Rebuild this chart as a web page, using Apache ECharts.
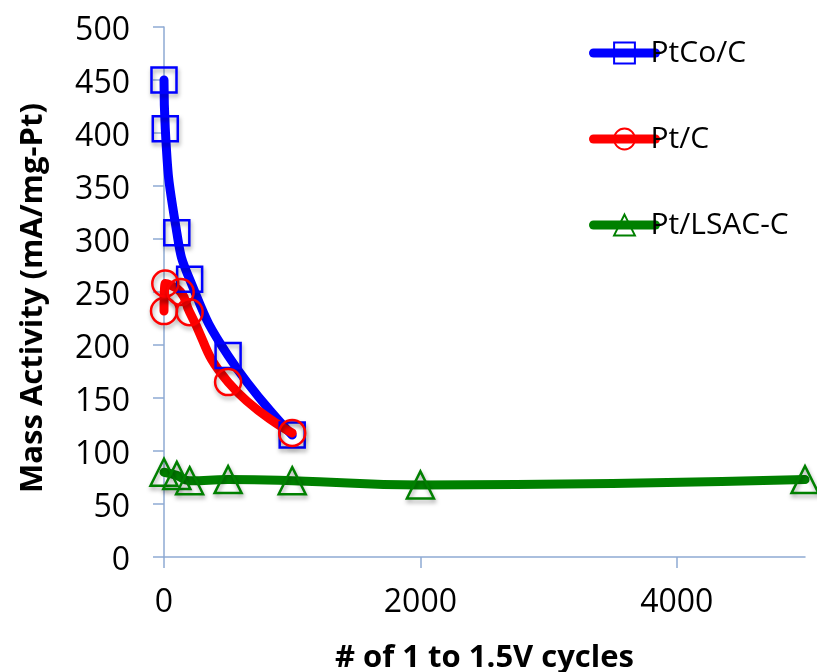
<!DOCTYPE html>
<html>
<head>
<meta charset="utf-8">
<script src="https://cdn.jsdelivr.net/npm/echarts@6/dist/echarts.min.js"></script>
<style>
html,body{margin:0;padding:0;background:#fff;}
#chart{width:817px;height:672px;}
</style>
</head>
<body>
<div id="chart"></div>
<script>
// Data
const seriesNames = ['PtCo/C', 'Pt/C', 'Pt/LSAC-C'];
const ptcoX = [0, 10, 100, 200, 500, 1000];
const ptcoY = [450, 404, 306, 262, 190, 115];
const ptX = [0, 10, 130, 200, 500, 1000];
const ptY = [232, 258, 250, 231, 165, 117];
const lsacX = [0, 100, 200, 500, 1000, 2000, 5000];
const lsacY = [80, 77, 72, 73, 72, 68, 73];
const xTicks = [0, 2000, 4000];
const yMin = 0, yMax = 500, yStep = 50;
const xMin = 0, xMax = 5000;

function pairs(xs, ys) { return xs.map((x, i) => [x, ys[i]]); }

const FONT = 'Open Sans';
const AXIS = '#8EAAD3';
const shadow = {shadowColor: 'rgba(0,0,0,0.35)', shadowBlur: 4, shadowOffsetX: 1, shadowOffsetY: 3};

function mk(name, xs, ys, color, symbol, size) {
  return {
    name: name,
    type: 'line',
    data: pairs(xs, ys),
    smooth: 0.5,
    symbol: symbol,
    symbolSize: size,
    showAllSymbol: true,
    lineStyle: {color: color, width: 9, cap: 'round', join: 'round'},
    itemStyle: Object.assign({color: 'rgba(255,255,255,0)', borderColor: color, borderWidth: 2.5}, shadow),
    emphasis: {disabled: true},
    z: 2
  };
}

const chart = echarts.init(document.getElementById('chart'), null, {renderer: 'canvas'});
chart.setOption({
  animation: false,
  backgroundColor: '#fff',
  grid: {left: 164, right: 12, top: 27, bottom: 115, containLabel: false, outerBoundsMode: 'none'},
  legend: {
    orient: 'vertical',
    left: 584,
    top: 33,
    itemWidth: 62,
    itemHeight: 26,
    itemGap: 56,
    lineStyle: {width: 9, cap: 'round'},
    itemStyle: {borderWidth: 2, shadowBlur: 0, shadowOffsetX: 0, shadowOffsetY: 0},
    textStyle: {fontFamily: FONT, fontSize: 30, color: '#000', padding: [0, 0, 0, -10]},
    data: seriesNames
  },
  xAxis: {
    type: 'value',
    min: xMin, max: xMax, interval: 2000,
    name: '# of 1 to 1.5V cycles',
    nameLocation: 'middle',
    nameGap: 86,
    nameTextStyle: {fontFamily: FONT, fontSize: 31, fontWeight: 'bold', color: '#000'},
    axisLine: {lineStyle: {color: AXIS, width: 1.5}},
    axisTick: {show: true, length: 11, lineStyle: {color: AXIS, width: 1.5}, customValues: xTicks},
    axisLabel: {fontFamily: FONT, fontSize: 32, color: '#000', margin: 30, customValues: xTicks,
                formatter: v => String(v)},
    splitLine: {show: false}
  },
  yAxis: {
    type: 'value',
    min: yMin, max: yMax, interval: yStep,
    name: 'Mass Activity (mA/mg-Pt)',
    nameLocation: 'middle',
    nameGap: 115,
    nameTextStyle: {fontFamily: FONT, fontSize: 31, fontWeight: 'bold', color: '#000', padding: [0, 12, 0, 0]},
    axisLine: {show: true, lineStyle: {color: AXIS, width: 1.5}},
    axisTick: {show: true, length: 11, lineStyle: {color: AXIS, width: 1.5}},
    axisLabel: {fontFamily: FONT, fontSize: 32, color: '#000', margin: 34, padding: [0, 0, 0, 0],
                lineHeight: 32, verticalAlign: 'middle', formatter: v => '{a|' + v + '}',
                rich: {a: {fontFamily: FONT, fontSize: 32, color: '#000', padding: [8, 0, 0, 0]}}},
    splitLine: {show: false}
  },
  series: [
    mk(seriesNames[0], ptcoX, ptcoY, '#0000FF', 'rect', 25),
    mk(seriesNames[1], ptX, ptY, '#FF0000', 'circle', 26),
    mk(seriesNames[2], lsacX, lsacY, '#008000', 'triangle', 27)
  ]
});
</script>
</body>
</html>
